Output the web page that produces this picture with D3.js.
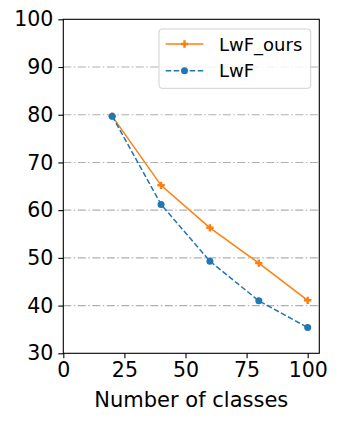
<!DOCTYPE html>
<html>
<head>
<meta charset="utf-8">
<script src="https://cdn.jsdelivr.net/npm/d3@7"></script>
<style>
    body { margin: 0; background: #fff; }
    svg { display: block; font-family: "DejaVu Sans", sans-serif; }
</style>
</head>
<body>
<div id="chart"></div>
<script>
// Accuracy vs number of classes
const classes = [20, 40, 60, 80, 100];
const lwfOurs = [79.7, 65.2, 56.3, 48.9, 41.1];
const lwf = [79.7, 61.2, 49.3, 41.0, 35.4];
const xTicks = [0, 25, 50, 75, 100];
const yTicks = [30, 40, 50, 60, 70, 80, 90, 100];
const gridLines = [40, 50, 60, 70, 80, 90];

const width = 339, height = 423;
const plot = { left: 63.3, right: 319.3, top: 19.3, bottom: 353.3 };

const svg = d3.select('#chart').append('svg')
    .attr('width', width)
    .attr('height', height);

const x = d3.scaleLinear().domain([0, 104.75]).range([plot.left, plot.right]);
const y = d3.scaleLinear().domain([30, 100]).range([plot.bottom, plot.top]);

// grid (dash-dot)
svg.append('g').selectAll('line')
    .data(gridLines)
    .join('line')
    .attr('x1', plot.left).attr('x2', plot.right)
    .attr('y1', d => y(d)).attr('y2', d => y(d))
    .attr('stroke', '#b0b0b0')
    .attr('stroke-width', 1.1)
    .attr('stroke-dasharray', '8,2.5,1.5,2.5');

// axes
const xAxis = svg.append('g')
    .attr('transform', `translate(0,${plot.bottom})`)
    .call(d3.axisBottom(x).tickValues(xTicks).tickSize(5).tickPadding(4));
const yAxis = svg.append('g')
    .attr('transform', `translate(${plot.left},0)`)
    .call(d3.axisLeft(y).tickValues(yTicks).tickSize(5).tickPadding(5));

[xAxis, yAxis].forEach(g => {
    g.select('.domain').remove();
    g.selectAll('line').attr('stroke', '#000').attr('stroke-width', 1.1);
    g.selectAll('text').attr('fill', '#000')
        .style('font-size', '20.5px')
        .style('font-family', '"DejaVu Sans", sans-serif');
});

// frame
svg.append('rect')
    .attr('x', plot.left).attr('y', plot.top)
    .attr('width', plot.right - plot.left)
    .attr('height', plot.bottom - plot.top)
    .attr('fill', 'none')
    .attr('stroke', '#000')
    .attr('stroke-width', 1.1);

svg.append('text')
    .attr('x', (plot.left + plot.right) / 2)
    .attr('y', 406.5)
    .attr('text-anchor', 'middle')
    .style('font-size', '21px')
    .text('Number of classes');

const line = d3.line().x(d => x(d[0])).y(d => y(d[1]));
const plusPath = d3.symbol(d3.symbolCross, 30)();

// LwF_ours (orange, solid, plus markers)
const oursPts = classes.map((c, i) => [c, lwfOurs[i]]);
svg.append('path')
    .datum(oursPts)
    .attr('d', line)
    .attr('fill', 'none')
    .attr('stroke', '#ff7f0e')
    .attr('stroke-width', 1.5);
svg.append('g').selectAll('path')
    .data(oursPts)
    .join('path')
    .attr('d', plusPath)
    .attr('transform', d => `translate(${x(d[0])},${y(d[1])})`)
    .attr('fill', '#ff7f0e');

// LwF (blue, dashed, circles)
const lwfPts = classes.map((c, i) => [c, lwf[i]]);
svg.append('path')
    .datum(lwfPts)
    .attr('d', line)
    .attr('fill', 'none')
    .attr('stroke', '#1f77b4')
    .attr('stroke-width', 1.5)
    .attr('stroke-dasharray', '5.5,2.5');
svg.append('g').selectAll('circle')
    .data(lwfPts)
    .join('circle')
    .attr('cx', d => x(d[0]))
    .attr('cy', d => y(d[1]))
    .attr('r', 3.5)
    .attr('fill', '#1f77b4');

// legend
const legend = svg.append('g');
legend.append('rect')
    .attr('x', 159).attr('y', 29)
    .attr('width', 151.7).attr('height', 59.3)
    .attr('rx', 3)
    .attr('fill', 'rgba(255,255,255,0.8)')
    .attr('stroke', '#d0d0d0')
    .attr('stroke-width', 1);

const items = [
    { name: 'LwF_ours', color: '#ff7f0e', dash: null, marker: 'plus', y: 44 },
    { name: 'LwF', color: '#1f77b4', dash: '5.5,2.5', marker: 'circle', y: 70.7 }
];
items.forEach(it => {
    legend.append('line')
        .attr('x1', 165.7).attr('x2', 203.3)
        .attr('y1', it.y).attr('y2', it.y)
        .attr('stroke', it.color)
        .attr('stroke-width', 1.5)
        .attr('stroke-dasharray', it.dash);
    if (it.marker === 'plus') {
        legend.append('path')
            .attr('d', plusPath)
            .attr('transform', `translate(184.5,${it.y})`)
            .attr('fill', it.color);
    } else {
        legend.append('circle')
            .attr('cx', 184.5).attr('cy', it.y).attr('r', 3.5)
            .attr('fill', it.color);
    }
    legend.append('text')
        .attr('x', 219)
        .attr('y', it.y + 6.5)
        .style('font-size', '18px')
        .text(it.name);
});
</script>
</body>
</html>
